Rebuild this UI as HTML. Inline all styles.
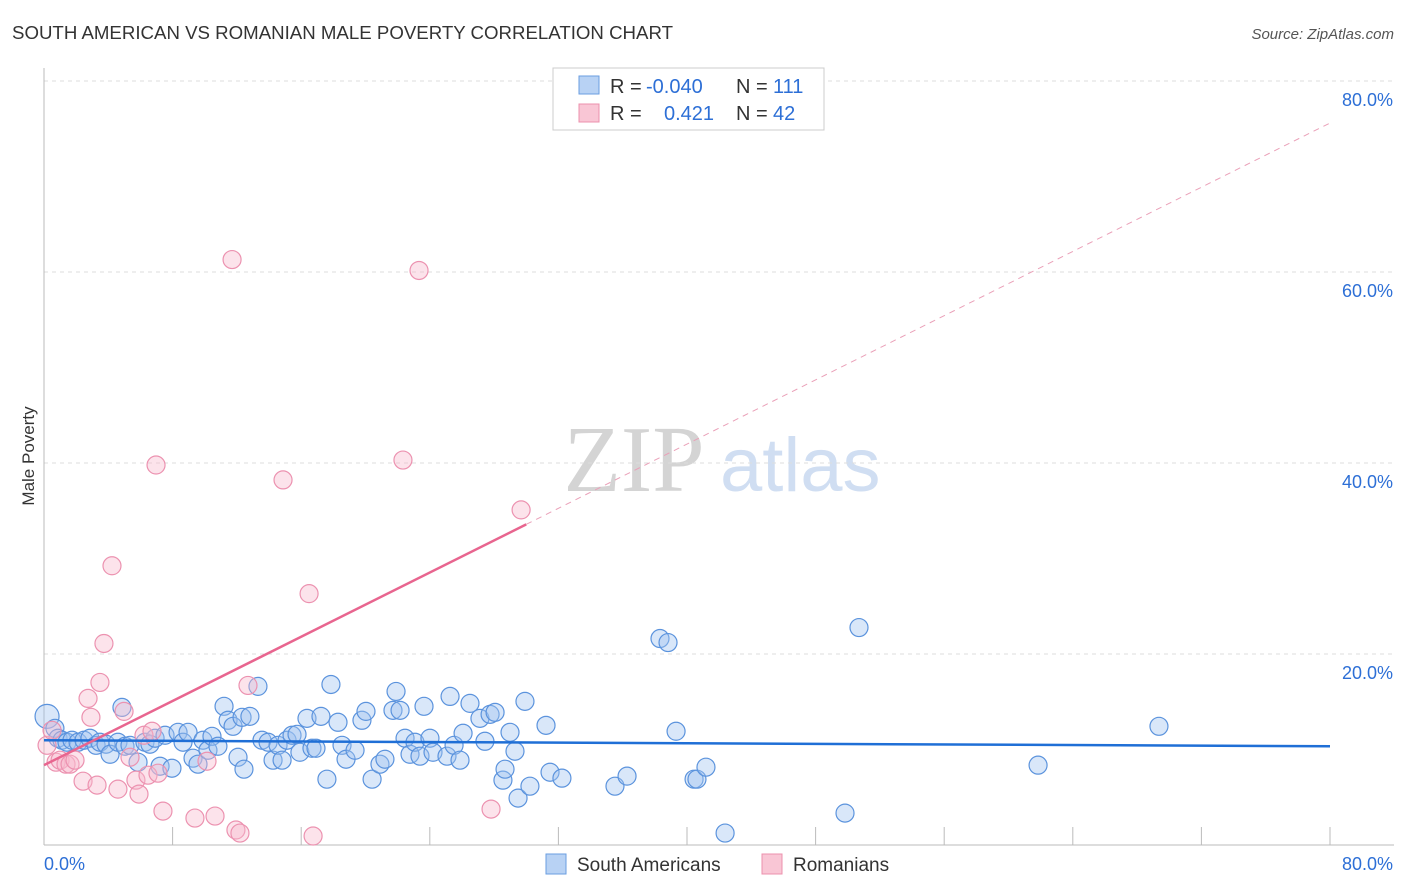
<!DOCTYPE html>
<html><head><meta charset="utf-8"><style>
body{margin:0;background:#fff;font-family:"Liberation Sans",sans-serif;}
#wrap{position:relative;width:1406px;height:892px;overflow:hidden}
</style></head><body><div id="wrap">
<svg id="chart" width="1406" height="892" xmlns="http://www.w3.org/2000/svg">
<text x="12" y="39" font-size="18" fill="#333" textLength="661" lengthAdjust="spacingAndGlyphs">SOUTH AMERICAN VS ROMANIAN MALE POVERTY CORRELATION CHART</text>
<text x="1394" y="39" font-size="15" fill="#555" text-anchor="end" font-style="italic">Source: ZipAtlas.com</text>
<text x="34" y="456" font-size="17" fill="#333" text-anchor="middle" transform="rotate(-90 34 456)">Male Poverty</text>
<text x="634" y="491" font-size="94" fill="#d4d4d4" font-family="Liberation Serif,serif" text-anchor="middle">ZIP</text>
<text x="720" y="491" font-size="76" fill="#d0def2">atlas</text>
<g id="grid"></g><g id="marks"></g><g id="lines"></g>
<g>
<rect x="553" y="68" width="271" height="62" fill="#fff" stroke="#ccc"/>
<rect x="579" y="76" width="20" height="18" fill="#b8d2f4" stroke="#6a9ee0"/>
<rect x="579" y="104" width="20" height="18" fill="#f9c6d5" stroke="#ec90ad"/>
<text y="93" font-size="20" fill="#333"><tspan x="610">R = </tspan><tspan x="646" fill="#2d6fd6">-0.040</tspan><tspan x="736">N = </tspan><tspan x="773" fill="#2d6fd6">111</tspan></text>
<text y="120" font-size="20" fill="#333"><tspan x="610">R = </tspan><tspan fill="#2d6fd6" x="664">0.421</tspan><tspan x="736">N = </tspan><tspan x="773" fill="#2d6fd6">42</tspan></text>
</g>
<g>
<rect x="546" y="854" width="20" height="20" fill="#b8d2f4" stroke="#6a9ee0"/>
<text x="577" y="871" font-size="19" fill="#333">South Americans</text>
<rect x="762" y="854" width="20" height="20" fill="#f9c6d5" stroke="#ec90ad"/>
<text x="793" y="871" font-size="19" fill="#333">Romanians</text>
</g>
</svg></div>
<script>
const yTicks=[20,40,60,80];
const xTickLabels=["0.0%","80.0%"];
const blueX=[0.19,0.68,0.87,1.12,1.43,1.74,2.12,2.49,2.86,3.24,3.48,3.86,4.11,4.6,4.85,5.04,5.35,5.85,6.28,6.59,6.91,7.22,7.53,7.96,8.34,8.65,8.96,9.27,9.58,9.89,10.2,10.45,10.82,11.2,11.45,11.76,12.07,12.32,12.44,12.81,13.31,13.56,13.94,14.25,14.56,14.81,15.12,15.43,15.74,15.92,16.36,16.67,16.92,17.23,17.6,17.85,18.29,18.54,18.79,19.35,19.78,20.03,20.41,20.9,21.21,21.71,21.9,22.15,22.46,22.77,23.08,23.39,23.64,24.01,24.2,25.07,25.26,25.51,25.88,26.07,26.5,27.12,27.43,27.75,28.06,28.55,28.68,28.99,29.3,29.49,29.92,30.23,31.23,31.48,32.22,35.52,36.27,38.32,38.82,39.32,40.44,40.62,41.18,42.37,49.83,50.7,61.84,69.36];
const blueY=[13.47,12.22,11.18,10.97,10.76,10.97,10.76,10.97,11.18,10.44,10.76,10.55,9.5,10.76,14.41,10.34,10.44,8.67,10.76,10.55,11.18,8.25,11.49,8.04,11.8,10.76,11.8,9.09,8.46,10.97,9.92,11.38,10.34,14.52,13.06,12.43,9.19,13.37,7.94,13.47,16.61,10.97,10.76,8.88,10.44,8.88,10.97,11.49,11.59,9.71,13.26,10.13,10.13,13.47,6.89,16.81,12.85,10.44,8.98,9.92,13.06,13.99,6.89,8.46,8.98,14.1,16.08,14.1,11.18,9.5,10.76,9.3,14.52,11.18,9.71,9.3,15.56,10.44,8.88,11.7,14.83,13.26,10.86,13.68,13.89,6.79,7.94,11.8,9.82,4.91,15.04,6.16,12.53,7.62,7.0,6.16,7.21,21.62,21.2,11.91,6.89,6.89,8.15,1.25,3.34,22.77,8.36,12.43];
const pinkX=[0.19,0.5,0.75,1.0,1.37,1.62,1.93,2.43,2.74,2.92,3.3,3.48,3.73,4.23,4.6,4.98,5.35,5.72,5.91,6.22,6.47,6.72,6.97,7.09,7.4,9.39,10.14,10.64,11.7,11.94,12.19,12.69,14.87,16.49,16.74,22.33,23.33,27.81,29.68];
const pinkY=[10.44,12.01,8.67,8.88,8.46,8.46,8.88,6.68,15.35,13.37,6.27,17.02,21.1,29.24,5.85,13.99,9.19,6.79,5.33,11.49,7.31,11.91,39.79,7.52,3.55,2.82,8.77,3.03,61.3,1.57,1.25,16.71,38.23,26.32,0.94,40.31,60.16,3.76,35.09];
const blueTrend=[10.97,10.34];
const pinkTrend=[8.36,75.6];
const pinkSolidEnd=30;
const X0=44,X1=1330,Y0=845,Y100=81;
const sx=v=>X0+(X1-X0)*v/80, sy=v=>Y0-(Y0-Y100)*v/80;
const NS="http://www.w3.org/2000/svg";
function mk(tag,at,parent){const e=document.createElementNS(NS,tag);for(const k in at)e.setAttribute(k,at[k]);parent.appendChild(e);return e;}
const grid=document.getElementById('grid'),marks=document.getElementById('marks'),lines=document.getElementById('lines');
yTicks.forEach(t=>{
const l=mk('line',{x1:X0,x2:1394,y1:sy(t),y2:sy(t),stroke:'#ddd','stroke-dasharray':'4 4'},grid);


const tx=mk('text',{x:1393,y:sy(t)+25,'font-size':18,fill:'#2d6fd6','text-anchor':'end'},grid);tx.textContent=t.toFixed(1)+'%';


});
mk('line',{x1:X0,x2:X0,y1:68,y2:Y0,stroke:'#bbb'},grid);
mk('line',{x1:X0,x2:1394,y1:Y0,y2:Y0,stroke:'#bbb'},grid);
for(let i=1;i<=10;i++){mk('line',{x1:sx(i*8),x2:sx(i*8),y1:Y0,y2:Y0-18,stroke:'#bbb'},grid);}
const xl0=mk('text',{x:44,y:870,'font-size':18,fill:'#2d6fd6'},grid);xl0.textContent=xTickLabels[0];


const xl1=mk('text',{x:1393,y:870,'font-size':18,fill:'#2d6fd6','text-anchor':'end'},grid);xl1.textContent=xTickLabels[1];


blueX.forEach((x,i)=>{const c=mk('circle',{cx:sx(x),cy:sy(blueY[i]),r:i==0?12:9,fill:'rgba(160,196,240,0.4)',stroke:'#5b93dd','stroke-width':1.2},marks);

});
pinkX.forEach((x,i)=>{const c=mk('circle',{cx:sx(x),cy:sy(pinkY[i]),r:9,fill:'rgba(248,185,205,0.4)',stroke:'#ec92b0','stroke-width':1.2},marks);

});
const pv=x=>pinkTrend[0]+(pinkTrend[1]-pinkTrend[0])*x/80;
const bl=mk('line',{x1:sx(0),y1:sy(blueTrend[0]),x2:sx(80),y2:sy(blueTrend[1]),stroke:'#1f6fd6','stroke-width':2.5},lines);


const pl=mk('line',{x1:sx(0),y1:sy(pv(0)),x2:sx(pinkSolidEnd),y2:sy(pv(pinkSolidEnd)),stroke:'#e8658f','stroke-width':2.5},lines);


const pd=mk('line',{x1:sx(pinkSolidEnd),y1:sy(pv(pinkSolidEnd)),x2:sx(80),y2:sy(pv(80)),stroke:'#eaa0b8','stroke-width':1,'stroke-dasharray':'6 5'},lines);


</script></body></html>
